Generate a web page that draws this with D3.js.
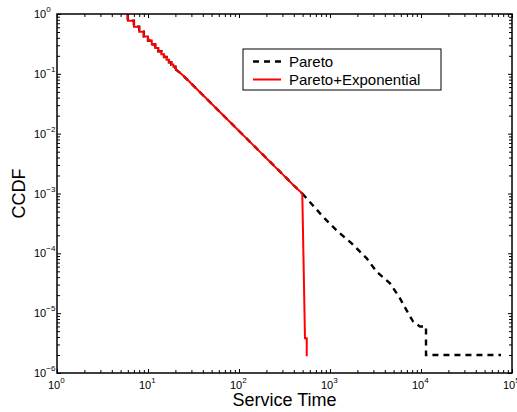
<!DOCTYPE html>
<html>
<head>
<meta charset="utf-8">
<style>
  body { margin: 0; background: #fff; }
  svg { display: block; font-family: "Liberation Sans", Arial, Helvetica, sans-serif; }
  .frame { fill: none; stroke: #000; stroke-width: 1.5px; }
  .tick line { stroke: #000; stroke-width: 1px; }
  .domain { display: none; }
</style>
<script src="https://d3js.org/d3.v7.min.js"></script>
</head>
<body>
<svg width="517" height="412"></svg>
<script>
// staircase at the start (shared by both series), drawn step-after
var headX = [6, 6, 7, 8, 9, 10, 11, 12, 13, 14, 15, 16, 17, 18, 19, 20];
var headY = [1, 0.771, 0.615, 0.504, 0.422, 0.359, 0.310, 0.271, 0.239, 0.213, 0.191, 0.172, 0.156, 0.143, 0.131, 0.120];

// straight power-law part (shared)
var bodyX = [20, 22, 25, 30, 40, 50, 70, 100, 150, 200, 300, 400, 496];
var bodyY = [0.120, 0.107, 0.090, 0.0683, 0.0443, 0.0316, 0.0190, 0.01108, 0.00601, 0.00389, 0.00211, 0.00136, 0.00100];

// Pareto tail (dashed black)
var paretoX = [496, 838, 1224, 1731, 2531, 3260, 4565, 5875, 7250, 8226, 9750, 11350, 11350, 75700];
var paretoY = [1e-3, 4.09e-4, 2.3e-4, 1.47e-4, 8.24e-5, 4.92e-5, 3.15e-5, 1.77e-5, 9.9e-6, 7.18e-6, 6e-6, 6e-6, 2e-6, 2e-6];

// Pareto+Exponential tail (red)
var expX = [496, 531, 555, 555];
var expY = [1e-3, 3.8e-6, 3.8e-6, 1.9e-6];

var xTickExps = [0, 1, 2, 3, 4, 5];
var yTickExps = [0, -1, -2, -3, -4, -5, -6];
var seriesNames = ['Pareto', 'Pareto+Exponential'];

var svg = d3.select('svg');
var mLeft = 57, mRight = 512, mTop = 14, mBottom = 373;

var x = d3.scaleLog().domain([1, 1e5]).range([mLeft, mRight]);
var y = d3.scaleLog().domain([1e-6, 1]).range([mBottom, mTop]);

function zip(xs, ys) { return xs.map(function(v, i) { return [v, ys[i]]; }); }

var xMinor = [], yMinor = [];
xTickExps.slice(0, -1).forEach(function(e) { for (var m = 2; m < 10; m++) xMinor.push(m * Math.pow(10, e)); });
yTickExps.slice(1).forEach(function(e) { for (var m = 2; m < 10; m++) yMinor.push(m * Math.pow(10, e)); });
var xMajor = xTickExps.map(function(e) { return Math.pow(10, e); });
var yMajor = yTickExps.map(function(e) { return Math.pow(10, e); });

// ticks on all four sides, pointing inward
function ticks(axisFn, scale, vals, len, tx, ty) {
  svg.append('g')
    .attr('transform', 'translate(' + tx + ',' + ty + ')')
    .call(axisFn(scale).tickValues(vals).tickSize(len).tickFormat(''));
}
ticks(d3.axisBottom, x, xMajor, -4, 0, mBottom);
ticks(d3.axisBottom, x, xMinor, -3, 0, mBottom);
ticks(d3.axisTop, x, xMajor, -4, 0, mTop);
ticks(d3.axisTop, x, xMinor, -3, 0, mTop);
ticks(d3.axisLeft, y, yMajor, -4, mLeft, 0);
ticks(d3.axisLeft, y, yMinor, -3, mLeft, 0);
ticks(d3.axisRight, y, yMajor, -4, mRight, 0);
ticks(d3.axisRight, y, yMinor, -3, mRight, 0);

function expText(e) { return (e < 0 ? '\u2212' : '') + Math.abs(e); }

// tick labels 10^n
var xl = svg.append('g').selectAll('text').data(xTickExps).enter().append('text')
  .attr('y', 389)
  .attr('font-size', 11);
xl.append('tspan').attr('x', function(e) { return x(Math.pow(10, e)) - 9; }).text('10');
xl.append('tspan').attr('dy', -6).attr('font-size', 8).text(expText);

var yl = svg.append('g').selectAll('text').data(yTickExps).enter().append('text')
  .attr('x', 34)
  .attr('y', function(e) { return y(Math.pow(10, e)) + 4; })
  .attr('font-size', 11);
yl.append('tspan').text('10');
yl.append('tspan').attr('dy', -6).attr('font-size', 8).text(expText);

// clip to plot area
svg.append('clipPath').attr('id', 'plot')
  .append('rect').attr('x', mLeft).attr('y', mTop).attr('width', mRight - mLeft).attr('height', mBottom - mTop);

var stepLine = d3.line().x(function(d) { return x(d[0]); }).y(function(d) { return y(d[1]); }).curve(d3.curveStepAfter);
var line = d3.line().x(function(d) { return x(d[0]); }).y(function(d) { return y(d[1]); });

var plot = svg.append('g').attr('clip-path', 'url(#plot)');

// Pareto: dashed black
var pareto = plot.append('g').attr('fill', 'none').attr('stroke', '#000')
  .attr('stroke-width', 2.4).attr('stroke-dasharray', '6,5');
pareto.append('path').attr('d', stepLine(zip(headX, headY)));
pareto.append('path').attr('d', line(zip(bodyX, bodyY)));
pareto.append('path').attr('d', line(zip(paretoX, paretoY)));

// Pareto+Exponential: solid red
var pe = plot.append('g').attr('fill', 'none').attr('stroke', '#ff0000')
  .attr('stroke-width', 2).attr('stroke-linejoin', 'miter');
pe.append('path').attr('d', stepLine(zip(headX, headY)));
pe.append('path').attr('d', line(zip(bodyX, bodyY)));
pe.append('path').attr('d', line(zip(expX, expY)));

// frame
svg.append('rect').attr('class', 'frame')
  .attr('x', mLeft).attr('y', mTop).attr('width', mRight - mLeft).attr('height', mBottom - mTop);

// axis labels
svg.append('text').attr('x', (mLeft + mRight) / 2).attr('y', 406)
  .attr('text-anchor', 'middle').attr('font-size', 18).text('Service Time');
svg.append('text').attr('transform', 'translate(25,' + ((mTop + mBottom) / 2) + ') rotate(-90)')
  .attr('text-anchor', 'middle').attr('font-size', 18).text('CCDF');

// legend
var lg = svg.append('g').attr('transform', 'translate(243,49)');
lg.append('rect').attr('width', 198).attr('height', 41)
  .attr('fill', '#fff').attr('stroke', '#000').attr('stroke-width', 1);
var styles = [
  { stroke: '#000', dash: '6,5', width: 2.4 },
  { stroke: '#ff0000', dash: null, width: 2 }
];
seriesNames.forEach(function(name, i) {
  var cy = 12.5 + i * 18;
  lg.append('line').attr('x1', 10).attr('x2', 38).attr('y1', cy).attr('y2', cy)
    .attr('stroke', styles[i].stroke).attr('stroke-width', styles[i].width)
    .attr('stroke-dasharray', styles[i].dash);
  lg.append('text').attr('x', 46).attr('y', cy + 5.5).attr('font-size', 15).text(name);
});
</script>
</body>
</html>
